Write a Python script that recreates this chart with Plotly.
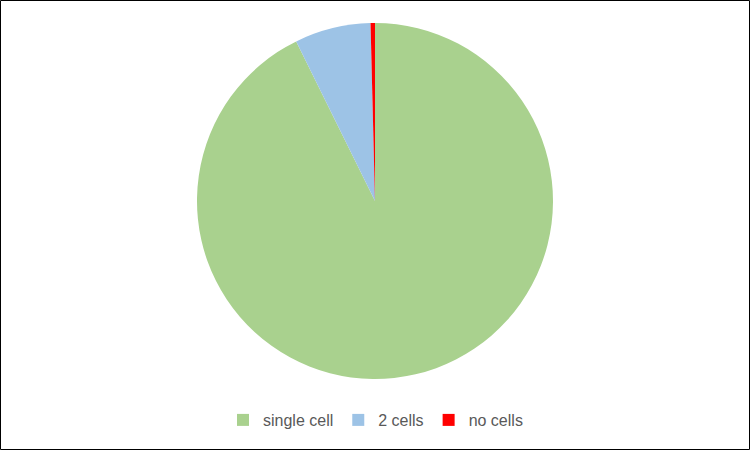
import plotly.graph_objects as go

labels = ["single cell", "2 cells", "no cells"]
values = [92.7, 6.9, 0.4]
colors = ["#A9D18E", "#9DC3E6", "#FF0000"]

W, H = 751, 451
cx, cy, r = 375, 201, 178

fig = go.Figure(go.Pie(
    labels=labels, values=values, sort=False, direction="clockwise", rotation=0,
    marker=dict(colors=colors, line=dict(width=0)),
    textinfo="none", hoverinfo="label+percent",
    domain=dict(x=[(cx - r) / W, (cx + r) / W], y=[1 - (cy + r) / H, 1 - (cy - r) / H]),
))

fig.update_layout(
    width=W, height=H,
    margin=dict(l=0, r=0, t=0, b=0),
    paper_bgcolor="white", plot_bgcolor="white",
    showlegend=True,
    legend=dict(orientation="h", x=0.5, xanchor="center", y=1 - 420 / H, yanchor="middle",
                font=dict(family="Liberation Sans, Arial", size=16, color="#595959"),
                itemwidth=30, traceorder="normal"),
    shapes=[dict(type="rect", xref="paper", yref="paper",
                 x0=0.5 / W, x1=(W - 1.5) / W, y0=1.5 / H, y1=1 - 0.5 / H,
                 line=dict(color="black", width=1), fillcolor="rgba(0,0,0,0)")],
)

fig.write_html("out.html", config={"displayModeBar": False},
               post_script="document.body.style.margin='0';document.body.style.overflow='hidden';")
